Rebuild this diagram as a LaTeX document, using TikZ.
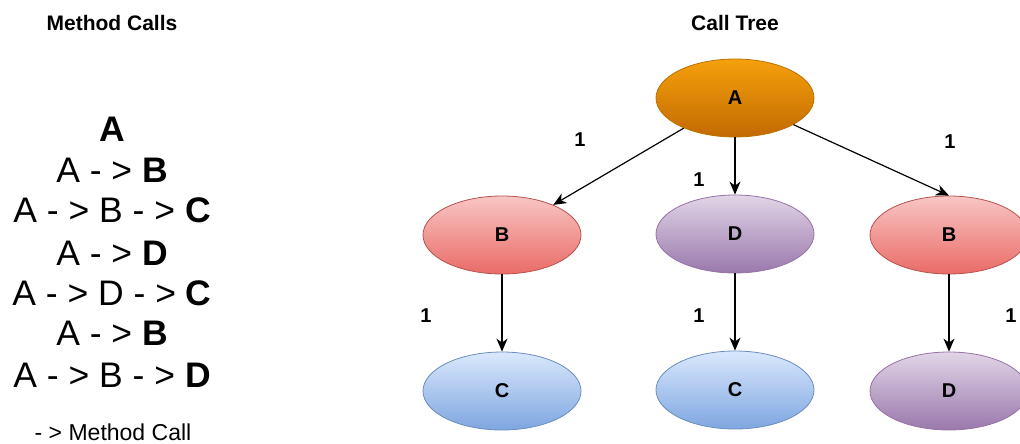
\documentclass[tikz,border=0pt]{standalone}
\usepackage{fontspec}
\setmainfont{Liberation Sans}
\usetikzlibrary{shapes.geometric,arrows.meta}

% draw.io style palette
\definecolor{orTop}{HTML}{F5A00C}
\definecolor{orBot}{HTML}{C26A02}
\definecolor{orLine}{HTML}{BD7000}
\definecolor{rdTop}{HTML}{F8C6C4}
\definecolor{rdBot}{HTML}{EA6B66}
\definecolor{rdLine}{HTML}{B85450}
\definecolor{puTop}{HTML}{E1D5E7}
\definecolor{puBot}{HTML}{9A78AC}
\definecolor{puLine}{HTML}{9673A6}
\definecolor{buTop}{HTML}{DAE8FC}
\definecolor{buBot}{HTML}{7EA6E0}
\definecolor{buLine}{HTML}{6C8EBF}

\tikzset{
  oval/.style={ellipse, minimum width=158pt, minimum height=78pt, inner sep=0pt,
    line width=0.8pt, font=\fontsize{20}{20}\selectfont\bfseries},
  orangeoval/.style={oval, draw=orLine, top color=orTop, bottom color=orBot},
  redoval/.style={oval, draw=rdLine, top color=rdTop, bottom color=rdBot},
  purpleoval/.style={oval, draw=puLine, top color=puTop, bottom color=puBot},
  blueoval/.style={oval, draw=buLine, top color=buTop, bottom color=buBot},
  callarrow/.style={line width=1.2pt, -{Stealth[length=13pt,width=11pt,inset=4pt]}},
  edgelabel/.style={font=\fontsize{20}{20}\selectfont\bfseries, inner sep=0pt},
  heading/.style={font=\fontsize{21}{21}\selectfont\bfseries, inner sep=0pt},
  callline/.style={font=\fontsize{35.5}{35.5}\selectfont, inner sep=0pt, anchor=base},
  legend/.style={font=\fontsize{23}{23}\selectfont, inner sep=0pt, anchor=base}
}

\begin{document}
\begin{tikzpicture}[x=1pt,y=-1pt]
  \useasboundingbox (0,0) rectangle (1020,444);

  % headings
  \node[heading] (hcalls) at (112,23) {Method Calls};
  \node[heading] (htree) at (735,23) {Call Tree};

  % list of method calls
  \node[callline] (l1) at (112,141) {\bfseries A};
  \node[callline] (l2) at (112,182) {A - > \textbf{B}};
  \node[callline] (l3) at (112,222) {A - > B - > \textbf{C}};
  \node[callline] (l4) at (112,265) {A - > \textbf{D}};
  \node[callline] (l5) at (112,305) {A - > D - > \textbf{C}};
  \node[callline] (l6) at (112,345) {A - > \textbf{B}};
  \node[callline] (l7) at (112,387) {A - > B - > \textbf{D}};
  \node[legend] (key) at (113,440) {- > Method Call};

  % call tree
  \node[orangeoval] (A) at (735,98) {A};
  \node[redoval] (B1) at (502,235) {B};
  \node[purpleoval] (D1) at (735,234) {D};
  \node[redoval] (B2) at (949,235) {B};
  \node[blueoval] (C1) at (502,391) {C};
  \node[blueoval] (C2) at (735,390) {C};
  \node[purpleoval] (D2) at (949,391) {D};

  \draw[callarrow] (A) -- (B1);
  \draw[callarrow] (A) -- (D1);
  \draw[callarrow] (A) -- (B2.north);
  \draw[callarrow] (B1) -- (C1);
  \draw[callarrow] (D1) -- (C2);
  \draw[callarrow] (B2) -- (D2);

  % call counts
  \node[edgelabel] (n1) at (580,140) {1};
  \node[edgelabel] (n2) at (699,180) {1};
  \node[edgelabel] (n3) at (950,142) {1};
  \node[edgelabel] (n4) at (426,316) {1};
  \node[edgelabel] (n5) at (699,316) {1};
  \node[edgelabel] (n6) at (1011,316) {1};
\end{tikzpicture}
\end{document}
